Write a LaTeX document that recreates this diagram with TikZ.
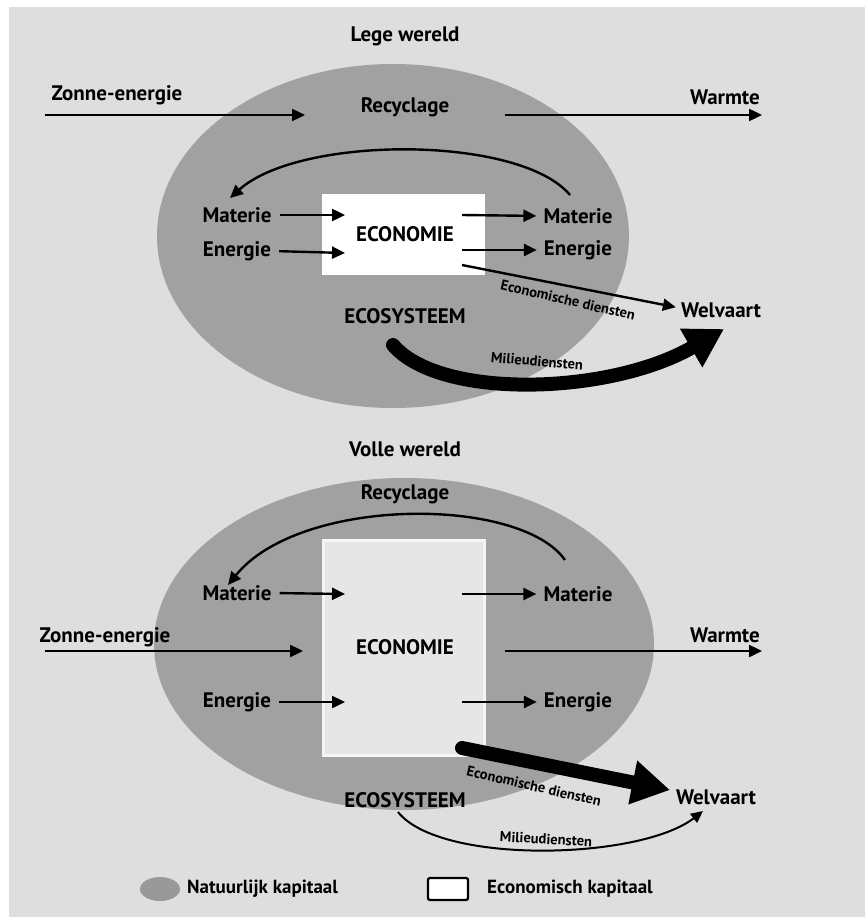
\documentclass[tikz,border=0pt]{standalone}
\usepackage{fontspec}
\setmainfont{PT Sans}
\usetikzlibrary{arrows.meta}

\definecolor{bggray}{HTML}{DEDEDE}
\definecolor{natgray}{HTML}{A1A1A1}
\definecolor{boxgray}{HTML}{E6E6E6}

\tikzset{
  lbl/.style={font=\bfseries\fontsize{21}{25}\selectfont, inner sep=1pt},
  tiny/.style={font=\bfseries\fontsize{14.5}{17}\selectfont, inner sep=1pt},
  arr/.style={line width=2.4pt, -{Triangle[length=13pt,width=12pt]}},
  bigarr/.style={line width=14pt, line cap=round, -{Triangle[length=38pt,width=42pt]}},
}

\begin{document}
\begin{tikzpicture}[x=1pt,y=-1pt]
\useasboundingbox (0,0) rectangle (865,917);
\fill[bggray] (9,7) rectangle (865,917);

% lege wereld
\fill[natgray] (393,236) ellipse [x radius=236, y radius=172];
\fill[white] (322,194) rectangle (485,275);
\node[lbl] (title1) at (405,36) {Lege wereld};
\node[lbl] (zon1) at (117,95) {Zonne-energie};
\node[lbl] (rec1) at (405,107) {Recyclage};
\node[lbl] (warm1) at (725,97) {Warmte};
\node[lbl] (econ1) at (405,234) {ECONOMIE};
\node[lbl] (matl1) at (237,215) {Materie};
\node[lbl] (enl1) at (237,251) {Energie};
\node[lbl] (matr1) at (578,216) {Materie};
\node[lbl] (enr1) at (578,250) {Energie};
\node[lbl] (welv1) at (721,310) {Welvaart};
\node[lbl] (eco1) at (405,316) {ECOSYSTEEM};
\coordinate (zs1) at (45,115);
\coordinate (zs2) at (305,115);
\coordinate (wa1) at (505,115);
\coordinate (wa2) at (762,115);
\coordinate (rc1) at (570,195);
\coordinate (rc2) at (230,198);
\coordinate (mi1) at (345,215);
\coordinate (ei1) at (345,253);
\coordinate (mo1) at (462,215);
\coordinate (eo1) at (462,250);
\coordinate (ed1) at (462,265);
\coordinate (ml1) at (393,345);
\coordinate (ml2) at (724,329);
\draw[arr] (zs1) -- (zs2);
\draw[arr] (wa1) -- (wa2);
\draw[arr] (rc1) .. controls (520,135) and (300,135) .. (rc2);
\draw[arr, shorten <=7pt] (matl1.east) -- (mi1);
\draw[arr, shorten <=7pt] (enl1.east) -- (ei1);
\draw[arr, shorten >=6pt] (mo1) -- (matr1.west);
\draw[arr, shorten >=6pt] (eo1) -- (enr1.west);
\draw[arr, shorten >=4pt] (ed1) -- ([yshift=2pt]welv1.west);
\draw[bigarr] (ml1) .. controls (440,400) and (610,395) .. (ml2);
\node[tiny, rotate=-13] (edl1) at (568,300) {Economische diensten};
\node[tiny, rotate=-5] (mdl1) at (537,361) {Milieudiensten};

% volle wereld
\fill[natgray] (404,644) ellipse [x radius=250, y radius=166];
\filldraw[fill=boxgray, draw=white!96!black, line width=3pt] (323,540) rectangle (484,755);
\node[lbl] (title2) at (405,449) {Volle wereld};
\node[lbl] (rec2) at (405,494) {Recyclage};
\node[lbl] (matl2) at (237,593) {Materie};
\node[lbl] (matr2) at (578,594) {Materie};
\node[lbl] (zon2) at (105,637) {Zonne-energie};
\node[lbl] (econ2) at (405,647) {ECONOMIE};
\node[lbl] (warm2) at (725,635) {Warmte};
\node[lbl] (enl2) at (237,702) {Energie};
\node[lbl] (enr2) at (578,702) {Energie};
\node[lbl] (welv2) at (716,797) {Welvaart};
\node[lbl] (eco2) at (405,800) {ECOSYSTEEM};
\coordinate (rc3) at (565,560);
\coordinate (rc4) at (228,585);
\coordinate (mi2) at (345,594);
\coordinate (mo2) at (462,594);
\coordinate (zs3) at (45,651);
\coordinate (zs4) at (303,651);
\coordinate (wa3) at (505,651);
\coordinate (wa4) at (762,651);
\coordinate (ei2) at (345,702);
\coordinate (eo2) at (462,702);
\coordinate (ed2) at (462,748);
\coordinate (ed3) at (670,790);
\coordinate (ml3) at (398,812);
\coordinate (ml4) at (703,811);
\draw[arr] (rc3) .. controls (520,496) and (300,496) .. (rc4);
\draw[arr, shorten <=7pt] (matl2.east) -- (mi2);
\draw[arr, shorten >=6pt] (mo2) -- (matr2.west);
\draw[arr] (zs3) -- (zs4);
\draw[arr] (wa3) -- (wa4);
\draw[arr, shorten <=7pt] (enl2.east) -- (ei2);
\draw[arr, shorten >=6pt] (eo2) -- (enr2.west);
\draw[bigarr] (ed2) -- (ed3);
\draw[line width=2pt, -{Triangle[length=12pt,width=11pt]}] (ml3) .. controls (440,865) and (640,860) .. (ml4);
\node[tiny, rotate=-13] (edl2) at (534,786) {Economische diensten};
\node[tiny, rotate=-3] (mdl2) at (546,839) {Milieudiensten};

% legenda
\fill[natgray!95!black] (160,889) ellipse [x radius=20, y radius=12];
\draw[line width=2.2pt, rounded corners=2pt, fill=white] (428,878) rectangle (468,900);
\node[lbl, font=\bfseries\fontsize{19}{22}\selectfont, anchor=west] (nat) at (186,889) {Natuurlijk kapitaal};
\node[lbl, font=\bfseries\fontsize{19}{22}\selectfont, anchor=west] (ekap) at (486,889) {Economisch kapitaal};
\end{tikzpicture}
\end{document}
